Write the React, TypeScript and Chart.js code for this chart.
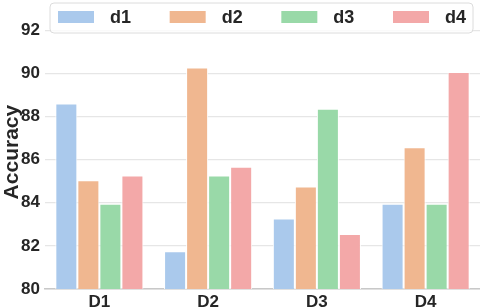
import React, { useEffect, useRef } from "react";
import { Chart, registerables } from "chart.js";

Chart.register(...registerables);

const categories = ["D1", "D2", "D3", "D4"];
const seriesNames = ["d1", "d2", "d3", "d4"];
const d1 = [88.6, 81.75, 83.27, 83.95];
const d2 = [85.05, 90.27, 84.75, 86.57];
const d3 = [83.95, 85.27, 88.36, 83.95];
const d4 = [85.27, 85.67, 82.55, 90.06];
const colors = ["#aac9ec", "#f0b790", "#99d9a8", "#f3a8a8"];
const yTicks = [80, 82, 84, 86, 88, 90, 92];
const yMin = 80;
const yMax = 92.7;

const FONT = "'Liberation Sans', Arial, Helvetica, sans-serif";

const legendPlugin = {
  id: "boxLegend",
  afterDraw(chart: any) {
    const ctx = chart.ctx;
    const ca = chart.chartArea;
    const left = ca.left + 5;
    const right = ca.right - 7;
    const top = 3;
    const bottom = 33;
    ctx.save();
    ctx.beginPath();
    const r = 4;
    const w = right - left;
    const h = bottom - top;
    ctx.moveTo(left + r, top);
    ctx.arcTo(left + w, top, left + w, top + h, r);
    ctx.arcTo(left + w, top + h, left, top + h, r);
    ctx.arcTo(left, top + h, left, top, r);
    ctx.arcTo(left, top, left + w, top, r);
    ctx.closePath();
    ctx.fillStyle = "rgba(255,255,255,0.8)";
    ctx.fill();
    ctx.strokeStyle = "#dcdcdc";
    ctx.lineWidth = 1;
    ctx.stroke();
    const ds = chart.data.datasets;
    const n = ds.length;
    const sw = 36;
    const gap = 16;
    const textW = 20;
    const spacing = (w - 16 - (sw + gap + textW)) / (n - 1);
    ctx.font = `bold 18px ${FONT}`;
    ctx.textBaseline = "middle";
    ctx.textAlign = "left";
    for (let i = 0; i < n; i++) {
      const x = left + 8 + i * spacing;
      ctx.fillStyle = ds[i].backgroundColor;
      ctx.fillRect(x, 11, sw, 12);
      ctx.fillStyle = "#262626";
      ctx.fillText(ds[i].label, x + sw + gap, 18);
    }
    ctx.restore();
  },
};

export default function App() {
  const ref = useRef<HTMLCanvasElement>(null);
  useEffect(() => {
    document.body.style.margin = "0";
    const series = [d1, d2, d3, d4];
    const chart = new Chart(ref.current!, {
      type: "bar",
      data: {
        labels: categories,
        datasets: series.map((s, i) => ({
          label: seriesNames[i],
          data: s,
          backgroundColor: colors[i],
          borderColor: "#ffffff",
          borderWidth: 1,
          borderSkipped: "start",
          categoryPercentage: 0.81,
          barPercentage: 1.0,
        })),
      },
      options: {
        responsive: false,
        animation: false,
        layout: { padding: { top: 5, left: 0, right: 0, bottom: 0 } },
        plugins: {
          legend: { display: false },
          tooltip: { enabled: false },
        },
        scales: {
          x: {
            grid: { display: false, drawTicks: false, tickLength: 0 },
            border: { display: true, color: "#c8c8c8", width: 1.5 },
            ticks: {
              color: "#262626",
              font: { family: FONT, size: 17, weight: "bold" },
              padding: 3,
            },
            afterFit(scale: any) {
              scale.height = 19;
            },
          },
          y: {
            min: yMin,
            max: yMax,
            border: { display: false },
            grid: { color: "#e6e6e6", lineWidth: 1.2, drawTicks: false },
            ticks: {
              stepSize: 2,
              includeBounds: false,
              color: "#262626",
              font: { family: FONT, size: 17, weight: "bold" },
              padding: 5,
            },
            afterBuildTicks(scale: any) {
              scale.ticks = yTicks.map((v) => ({ value: v }));
            },
            title: {
              display: true,
              text: "Accuracy",
              color: "#262626",
              font: { family: FONT, size: 21, weight: "bold" },
              padding: { top: 0, bottom: 0 },
            },
            afterFit(scale: any) {
              scale.width = 45;
            },
          },
        },
      },
      plugins: [legendPlugin],
    } as any);
    return () => chart.destroy();
  }, []);
  return (
    <div style={{ width: 480, height: 308 }}>
      <canvas ref={ref} width={480} height={308} />
    </div>
  );
}
